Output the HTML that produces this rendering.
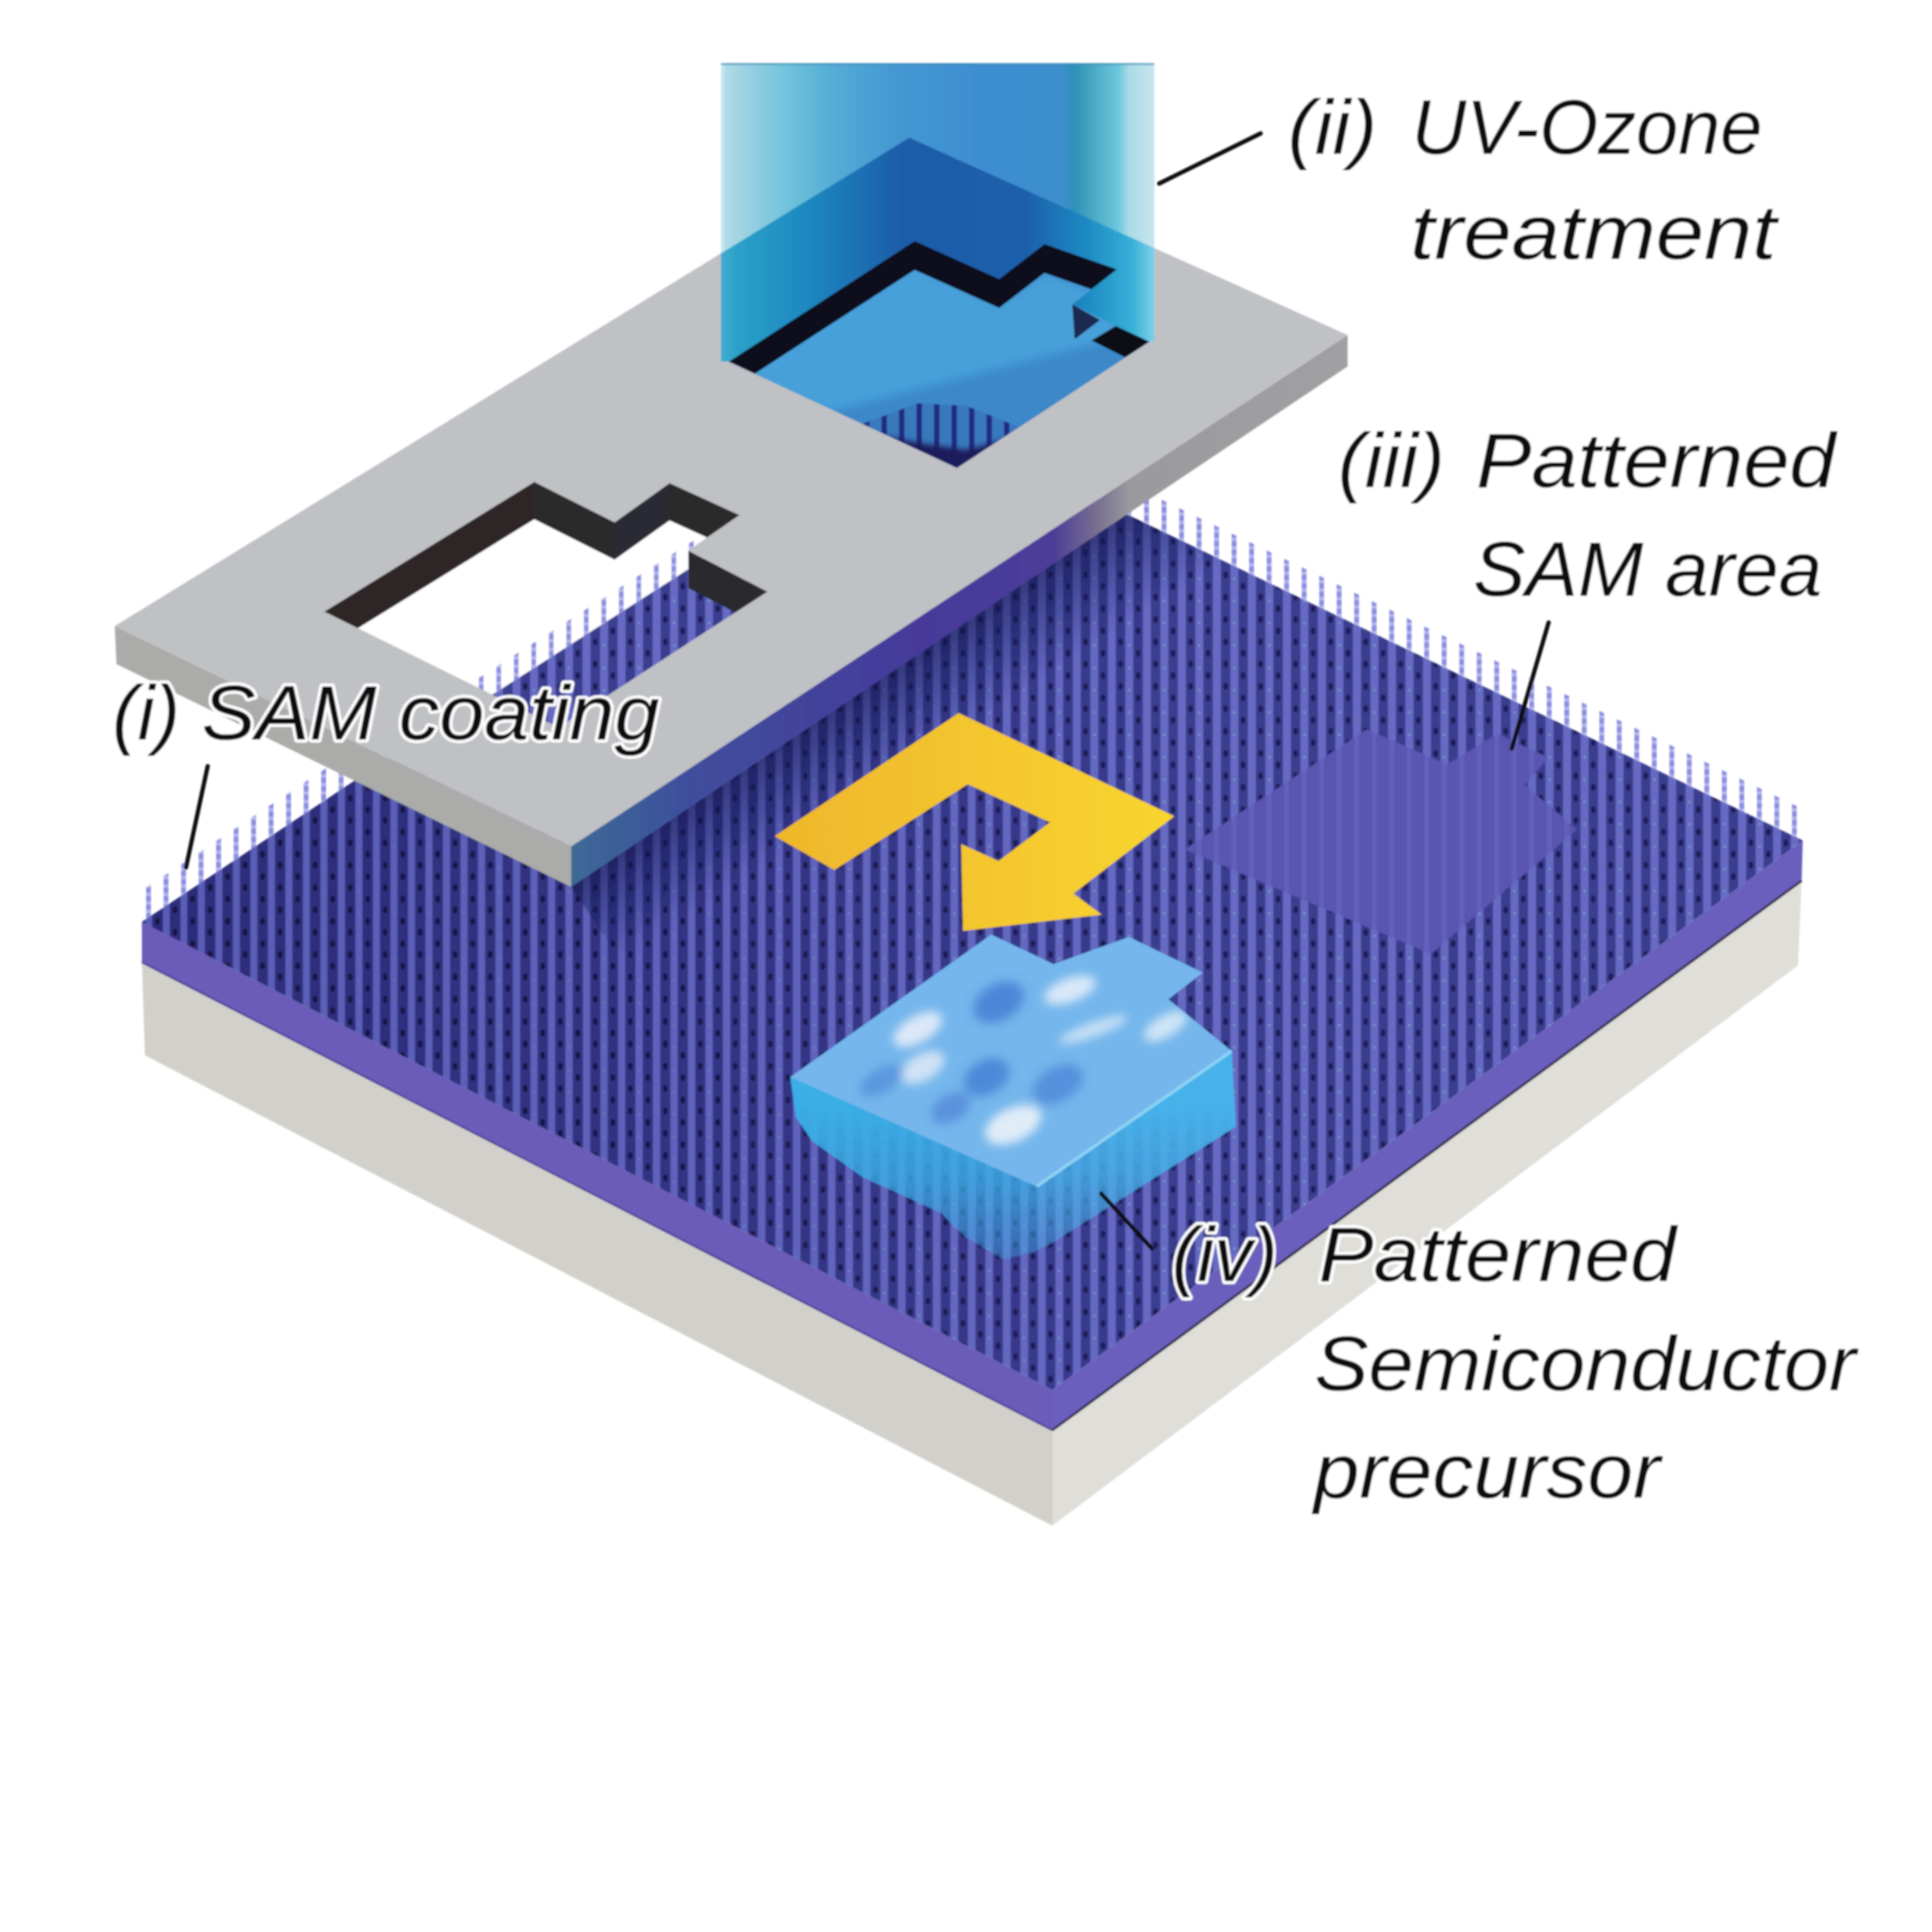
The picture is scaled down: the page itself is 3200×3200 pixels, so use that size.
<!DOCTYPE html>
<html><head><meta charset="utf-8"><style>
html,body{margin:0;padding:0;background:#fff;}
svg{display:block;}
</style></head><body>
<svg width="3200" height="3200" viewBox="0 0 3200 3200">
<defs>
<pattern id="sam" width="58" height="37" patternUnits="userSpaceOnUse">
 <rect width="58" height="37" fill="#3a3c8e"/>
 <rect x="8" width="13" height="37" fill="#666ac2"/>
 <rect x="37" width="13" height="37" fill="#666ac2"/>
 <ellipse cx="29" cy="9" rx="4" ry="6" fill="#1e1e5a"/>
 <ellipse cx="0" cy="27" rx="4" ry="6" fill="#1e1e5a"/>
 <ellipse cx="58" cy="27" rx="4" ry="6" fill="#1e1e5a"/>
 <circle cx="14.5" cy="33" r="1.6" fill="#7ab4cc"/>
</pattern>
<pattern id="samD" width="58" height="37" patternUnits="userSpaceOnUse">
 <rect width="58" height="37" fill="#2a2a76"/>
 <rect x="9" width="11" height="37" fill="#585ab2"/>
 <rect x="38" width="11" height="37" fill="#585ab2"/>
 <ellipse cx="29" cy="9" rx="4" ry="6" fill="#141440"/>
 <ellipse cx="0" cy="27" rx="4" ry="6" fill="#141440"/>
 <ellipse cx="58" cy="27" rx="4" ry="6" fill="#141440"/>
</pattern>
<linearGradient id="samMaskG" x1="250" y1="0" x2="1900" y2="0" gradientUnits="userSpaceOnUse">
 <stop offset="0" stop-color="#ddd"/>
 <stop offset="0.45" stop-color="#888"/>
 <stop offset="1" stop-color="#000"/>
</linearGradient>
<mask id="samMask" maskUnits="userSpaceOnUse" x="0" y="0" width="3200" height="3200"><rect width="3200" height="3200" fill="url(#samMaskG)"/></mask>
<pattern id="samB" width="29" height="36" patternUnits="userSpaceOnUse">
 <rect width="29" height="36" fill="#3878bc"/>
 <rect x="10" width="9" height="36" fill="#232a80"/>
</pattern>
<pattern id="samP" width="29" height="36" patternUnits="userSpaceOnUse">
 <rect width="29" height="36" fill="#5a54b0"/>
 <rect x="10" width="8" height="36" fill="#6260bc"/>
</pattern>
<pattern id="fringe" width="29" height="14" patternUnits="userSpaceOnUse">
 <rect x="10" width="8" height="9" fill="#8c8ee0"/>
 <rect x="10" y="9" width="8" height="5" fill="#b4b6ee"/>
</pattern>
<linearGradient id="beamTop" x1="1194" y1="0" x2="1912" y2="0" gradientUnits="userSpaceOnUse">
 <stop offset="0" stop-color="#d0eaf0"/>
 <stop offset="0.012" stop-color="#b0dce8"/>
 <stop offset="0.035" stop-color="#a4d6e4"/>
 <stop offset="0.088" stop-color="#8ccce0"/>
 <stop offset="0.148" stop-color="#72c4dc"/>
 <stop offset="0.23" stop-color="#5ab2d6"/>
 <stop offset="0.315" stop-color="#4ea4d4"/>
 <stop offset="0.4" stop-color="#4498d2"/>
 <stop offset="0.59" stop-color="#3e8ed0"/>
 <stop offset="0.79" stop-color="#3c8ecc"/>
 <stop offset="0.815" stop-color="#2e90b8"/>
 <stop offset="0.858" stop-color="#4aa8c4"/>
 <stop offset="0.916" stop-color="#6cc6dc"/>
 <stop offset="0.94" stop-color="#a8dae6"/>
 <stop offset="1" stop-color="#c8e6ee"/>
</linearGradient>
<linearGradient id="beamMask" x1="1194" y1="0" x2="1912" y2="0" gradientUnits="userSpaceOnUse">
 <stop offset="0" stop-color="#40acd0"/>
 <stop offset="0.04" stop-color="#2aa0c8"/>
 <stop offset="0.2" stop-color="#1c88c0"/>
 <stop offset="0.42" stop-color="#1a5ca8"/>
 <stop offset="0.7" stop-color="#1a5eaa"/>
 <stop offset="0.85" stop-color="#1e8cc4"/>
 <stop offset="0.95" stop-color="#38b0d8"/>
 <stop offset="1" stop-color="#80d0e8"/>
</linearGradient>
<linearGradient id="arrowG" x1="1283" y1="0" x2="1945" y2="0" gradientUnits="userSpaceOnUse">
 <stop offset="0" stop-color="#efb62c"/>
 <stop offset="1" stop-color="#f8d52e"/>
</linearGradient>
<linearGradient id="mfr" x1="946" y1="0" x2="2232" y2="0" gradientUnits="userSpaceOnUse">
 <stop offset="0" stop-color="#3c6a96"/>
 <stop offset="0.15" stop-color="#3e4e9c"/>
 <stop offset="0.45" stop-color="#46399a"/>
 <stop offset="0.62" stop-color="#4c3c98"/>
 <stop offset="0.68" stop-color="#7a7290"/>
 <stop offset="0.72" stop-color="#9a9a9e"/>
 <stop offset="1" stop-color="#a0a0a2"/>
</linearGradient>
<linearGradient id="mshadow" x1="1589" y1="1038" x2="1672" y2="1163" gradientUnits="userSpaceOnUse">
 <stop offset="0" stop-color="#101448" stop-opacity="0.55"/>
 <stop offset="0.5" stop-color="#142060" stop-opacity="0.3"/>
 <stop offset="1" stop-color="#142060" stop-opacity="0"/>
</linearGradient>
<filter id="soft" x="0" y="0" width="3200" height="3200" filterUnits="userSpaceOnUse"><feGaussianBlur stdDeviation="1.8"/></filter>
<filter id="blur8" x="-20%" y="-20%" width="140%" height="140%"><feGaussianBlur stdDeviation="8"/></filter>
<filter id="blur4" x="-20%" y="-20%" width="140%" height="140%"><feGaussianBlur stdDeviation="4"/></filter>
<clipPath id="clipTop"><polygon points="235.0,1527.0 1510.0,680.0 2986.0,1392.0 1743.0,2302.0"/></clipPath>
<clipPath id="clipH"><polygon points="537.0,1013.0 885.0,798.0 1018.0,865.0 1109.0,800.0 1225.0,853.0 1140.0,912.0 1271.0,980.0 925.0,1205.0"/></clipPath>
<clipPath id="clipRH"><polygon points="1207.0,599.0 1515.0,399.0 1655.0,462.0 1730.0,404.0 1850.0,446.0 1776.0,504.0 1904.0,566.0 1585.0,775.0"/></clipPath>
<clipPath id="clipBeam"><polygon points="1194.0,105.0 1912.0,105.0 1912.0,566.0 1904.0,566.0 1585.0,775.0 1207.0,599.0 1194.0,599.0"/></clipPath>
</defs>
<rect width="3200" height="3200" fill="#ffffff"/>
<g filter="url(#soft)">
<polygon points="235.0,1594.0 1743.0,2369.0 1743.0,2527.0 240.0,1748.0" fill="#d2d0ca"/>
<polygon points="1743.0,2369.0 2984.0,1459.0 2978.0,1599.0 1743.0,2527.0" fill="#e0ded8"/>
<polygon points="235.0,1527.0 1743.0,2302.0 1743.0,2369.0 235.0,1594.0" fill="#6a5cb8"/>
<polygon points="1743.0,2302.0 2986.0,1392.0 2984.0,1459.0 1743.0,2369.0" fill="#6a5fbc"/>
<polyline points="235.0,1594.0 1743.0,2369.0" fill="none" stroke="#4a3c98" stroke-width="3"/>
<polyline points="1743.0,2369.0 2984.0,1459.0" fill="none" stroke="#2e2a4a" stroke-width="4"/>
<polygon points="235.0,1527.0 1510.0,680.0 2986.0,1392.0 2986.0,1340.0 1510.0,628.0 235.0,1475.0" fill="url(#fringe)"/>
<polygon points="235.0,1527.0 1510.0,680.0 2986.0,1392.0 1743.0,2302.0" fill="url(#sam)"/>
<polygon points="235.0,1527.0 1510.0,680.0 2986.0,1392.0 1743.0,2302.0" fill="url(#samD)" mask="url(#samMask)"/>
<polygon points="1962.0,1407.0 2264.0,1208.0 2397.0,1266.0 2480.0,1215.0 2565.0,1255.0 2525.0,1300.0 2612.0,1374.0 2370.0,1580.0" fill="url(#samP)"/>
<polygon clip-path="url(#clipTop)" points="946.0,1469.0 2232.0,607.0 2316.0,732.0 1030.0,1594.0" fill="url(#mshadow)"/>
<polygon points="1283.0,1385.0 1588.0,1181.0 1945.0,1352.0 1778.0,1480.0 1825.0,1515.0 1595.0,1542.0 1592.0,1398.0 1654.0,1426.0 1739.0,1362.0 1603.0,1299.0 1382.0,1441.0" fill="url(#arrowG)"/>
<polygon points="1309.0,1784.0 1642.0,1548.0 1745.0,1597.0 1870.0,1552.0 1992.0,1611.0 1935.0,1655.0 2040.0,1741.0 2047.0,1866.0 1740.0,2060.0 1714.0,2073.0 1662.0,2086.0 1598.0,2048.0 1559.0,2009.0 1429.0,1950.0 1345.0,1890.0 1318.0,1850.0" fill="#3aaee6"/>
<polygon points="1717.0,1965.0 2040.0,1741.0 2047.0,1866.0 1740.0,2060.0 1717.0,2066.0" fill="#46b2ea"/>
<defs><linearGradient id="ffG" x1="0" y1="1830" x2="0" y2="2090" gradientUnits="userSpaceOnUse"><stop offset="0" stop-color="#000"/><stop offset="0.45" stop-color="#333"/><stop offset="1" stop-color="#aaa"/></linearGradient><mask id="ffM" maskUnits="userSpaceOnUse" x="0" y="0" width="3200" height="3200"><rect width="3200" height="3200" fill="url(#ffG)"/></mask></defs>
<polygon points="1309.0,1784.0 1717.0,1965.0 2040.0,1741.0 2047.0,1866.0 1740.0,2060.0 1714.0,2073.0 1662.0,2086.0 1598.0,2048.0 1559.0,2009.0 1429.0,1950.0 1345.0,1890.0 1318.0,1850.0" fill="url(#sam)" mask="url(#ffM)"/>
<defs><clipPath id="clipBT"><polygon points="1309.0,1784.0 1642.0,1548.0 1745.0,1597.0 1870.0,1552.0 1992.0,1611.0 1935.0,1655.0 2040.0,1741.0 1717.0,1965.0"/></clipPath></defs>
<polygon points="1309.0,1784.0 1642.0,1548.0 1745.0,1597.0 1870.0,1552.0 1992.0,1611.0 1935.0,1655.0 2040.0,1741.0 1717.0,1965.0" fill="#74b6ec"/>
<g clip-path="url(#clipBT)"><g filter="url(#blur8)">
<ellipse cx="1520" cy="1705" rx="45" ry="22" fill="#dce8f8" transform="rotate(-30 1520 1705)"/>
<ellipse cx="1528" cy="1768" rx="40" ry="22" fill="#d0e2f6" transform="rotate(-30 1528 1768)"/>
<ellipse cx="1678" cy="1863" rx="50" ry="28" fill="#e0ecf8" transform="rotate(-25 1678 1863)"/>
<ellipse cx="1772" cy="1640" rx="45" ry="20" fill="#d8e8f8" transform="rotate(-20 1772 1640)"/>
<ellipse cx="1811" cy="1705" rx="60" ry="12" fill="#c8e0f6" transform="rotate(-20 1811 1705)"/>
<ellipse cx="1930" cy="1700" rx="40" ry="18" fill="#cfe4f6" transform="rotate(-30 1930 1700)"/>
<ellipse cx="1654" cy="1660" rx="45" ry="30" fill="#4d86d8" transform="rotate(-30 1654 1660)"/>
<ellipse cx="1634" cy="1784" rx="40" ry="28" fill="#4c8ad8" transform="rotate(-30 1634 1784)"/>
<ellipse cx="1752" cy="1796" rx="45" ry="28" fill="#5590dc" transform="rotate(-30 1752 1796)"/>
<ellipse cx="1575" cy="1835" rx="35" ry="22" fill="#5a92dc" transform="rotate(-30 1575 1835)"/>
<ellipse cx="1460" cy="1790" rx="40" ry="20" fill="#5a98de" transform="rotate(-30 1460 1790)"/>
</g></g>
<polyline points="1717.0,1965.0 2040.0,1741.0" stroke="#8ed4f4" stroke-width="5" fill="none"/>
<polygon points="190.0,1037.0 946.0,1402.0 946.0,1469.0 193.0,1100.0" fill="#abaca9"/>
<polygon points="946.0,1402.0 2232.0,555.0 2232.0,607.0 946.0,1469.0" fill="url(#mfr)"/>
<polygon points="190.0,1037.0 1506.0,228.0 2232.0,555.0 946.0,1402.0" fill="#bfc1c5"/>
<g clip-path="url(#clipH)">
<polygon points="537.0,1013.0 885.0,798.0 1018.0,865.0 1109.0,800.0 1225.0,853.0 1140.0,912.0 1271.0,980.0 925.0,1205.0" fill="#ffffff"/>
<polygon points="500.0,1310.4 1320.0,785.6 1320.0,827.6 500.0,1352.4" fill="url(#fringe)"/>
<polygon points="500.0,1352.4 1320.0,827.6 1320.0,1400.0 500.0,1400.0" fill="url(#sam)"/>
<polygon points="537.0,1013.0 885.0,798.0 885.0,860.0 537.0,1075.0" fill="#2f2828"/>
<polygon points="885.0,798.0 1018.0,865.0 1018.0,927.0 885.0,860.0" fill="#2a2a2c"/>
<polygon points="1018.0,865.0 1109.0,800.0 1109.0,862.0 1018.0,927.0" fill="#2c2c34"/>
<polygon points="1109.0,800.0 1225.0,853.0 1225.0,915.0 1109.0,862.0" fill="#2a2a2c"/>
<polygon points="1140.0,912.0 1271.0,980.0 1271.0,1042.0 1140.0,974.0" fill="#2b2b2d"/>
</g>
<polygon points="1194.0,105.0 1912.0,105.0 1912.0,566.0 1904.0,566.0 1585.0,775.0 1207.0,599.0 1194.0,599.0" fill="url(#beamTop)"/>
<line x1="1194" y1="106" x2="1912" y2="106" stroke="#3a86b0" stroke-width="3" opacity="0.7"/>
<polygon clip-path="url(#clipBeam)" points="190.0,1037.0 1506.0,228.0 2232.0,555.0 946.0,1402.0" fill="url(#beamMask)"/>
<g clip-path="url(#clipRH)">
<polygon points="1207.0,599.0 1515.0,399.0 1655.0,462.0 1730.0,404.0 1850.0,446.0 1776.0,504.0 1904.0,566.0 1585.0,775.0" fill="#3c88c8"/>
<polygon points="1200.0,620.0 1515.0,440.0 1655.0,505.0 1730.0,452.0 1850.0,494.0 1850.0,560.0 1300.0,700.0" fill="#46a0da" filter="url(#blur8)"/>
<polygon points="1420.0,705.0 1520.0,668.0 1600.0,672.0 1700.0,712.0 1600.0,800.0 1420.0,800.0" fill="url(#samB)"/>
<polygon points="1450.0,720.0 1530.0,735.0 1600.0,745.0 1680.0,725.0 1680.0,800.0 1450.0,800.0" fill="#1c1a5c" filter="url(#blur4)"/>
<polygon points="1207.0,599.0 1515.0,399.0 1515.0,447.0 1207.0,647.0" fill="#0c0c1c"/>
<polygon points="1515.0,399.0 1655.0,462.0 1655.0,510.0 1515.0,447.0" fill="#0c0c1c"/>
<polygon points="1655.0,462.0 1730.0,404.0 1730.0,452.0 1655.0,510.0" fill="#0c0c1c"/>
<polygon points="1730.0,404.0 1850.0,446.0 1850.0,494.0 1730.0,452.0" fill="#0c0c1c"/>
<polygon points="1776.0,504.0 1822.0,530.0 1780.0,562.0" fill="#1a2a50"/>
<polygon points="1808.0,564.0 1848.0,540.0 1904.0,566.0 1864.0,592.0" fill="#0c0c14"/>
</g>
<g font-family="Liberation Sans, sans-serif" font-style="italic" font-size="128" fill="#111" stroke="#fff" stroke-width="10" stroke-linejoin="round" paint-order="stroke">
<text x="2133" y="255" textLength="148" lengthAdjust="spacingAndGlyphs">(ii)</text>
<text x="2338" y="255" textLength="581" lengthAdjust="spacingAndGlyphs">UV-Ozone</text>
<text x="2336" y="429" textLength="606" lengthAdjust="spacingAndGlyphs">treatment</text>
<text x="2216" y="807" textLength="177" lengthAdjust="spacingAndGlyphs">(iii)</text>
<text x="2445" y="807" textLength="595" lengthAdjust="spacingAndGlyphs">Patterned</text>
<text x="2440" y="987" textLength="578" lengthAdjust="spacingAndGlyphs">SAM area</text>
<text x="1941" y="2122" textLength="175" lengthAdjust="spacingAndGlyphs">(iv)</text>
<text x="2184" y="2122" textLength="592" lengthAdjust="spacingAndGlyphs">Patterned</text>
<text x="2177" y="2303" textLength="897" lengthAdjust="spacingAndGlyphs">Semiconductor</text>
<text x="2176" y="2481" textLength="574" lengthAdjust="spacingAndGlyphs">precursor</text>
<text x="186" y="1225" textLength="112" lengthAdjust="spacingAndGlyphs">(i)</text>
<text x="334" y="1225" textLength="758" lengthAdjust="spacingAndGlyphs">SAM coating</text>
</g>
<g stroke="#111" stroke-width="7" stroke-linecap="round">
<line x1="1920" y1="304" x2="2088" y2="221"/>
<line x1="2565" y1="1031" x2="2504" y2="1240"/>
<line x1="1824" y1="1977" x2="1908" y2="2068"/>
<line x1="344" y1="1269" x2="308" y2="1437"/>
</g>
</g>
</svg>
</body></html>
